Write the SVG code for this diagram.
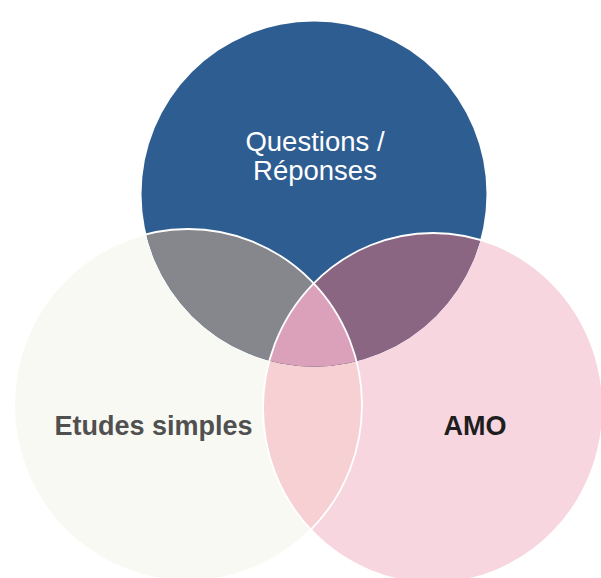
<svg xmlns="http://www.w3.org/2000/svg" width="601" height="578" viewBox="0 0 601 578">
<style>
.lbl{font-family:"Liberation Sans",Arial,sans-serif;text-anchor:middle}
.edge{fill:none;stroke:#ffffff;stroke-width:1.8}
</style>
<defs>
<circle id="cA" cx="314" cy="194" r="172.5"/>
<ellipse id="cB" cx="188" cy="405" rx="174" ry="176"/>
<ellipse id="cC" cx="433" cy="408" rx="170" ry="175"/>
<clipPath id="clipA"><use href="#cA"/></clipPath>
<clipPath id="clipB"><use href="#cB"/></clipPath>
<clipPath id="clipC"><use href="#cC"/></clipPath>
</defs>
<rect width="601" height="578" fill="#ffffff"/>
<g id="etudes-simples">
<use href="#cB" fill="#f9f9f4"/>
</g>
<g id="amo">
<use href="#cC" fill="#f8d6e0"/>
<use href="#cC" fill="#f6d0d2" clip-path="url(#clipB)"/>
</g>
<g id="questions-reponses">
<use href="#cA" fill="#2e5d92"/>
<g clip-path="url(#clipA)">
<use href="#cB" fill="#86878c"/>
<use href="#cC" fill="#8b6683"/>
<g clip-path="url(#clipB)"><use href="#cC" fill="#dba1bb"/></g>
</g>
</g>
<g id="connectors">
<use href="#cB" class="edge"/>
<use href="#cC" class="edge"/>
</g>
<g id="labels">
<text class="lbl" x="315" y="151" font-size="27.5" fill="#ffffff">Questions /</text>
<text class="lbl" x="315" y="180" font-size="27.5" fill="#ffffff">Réponses</text>
<text class="lbl" x="153.5" y="435" font-size="27" font-weight="bold" fill="#505050">Etudes simples</text>
<text class="lbl" x="475" y="435" font-size="27" font-weight="bold" fill="#1e1e1e">AMO</text>
</g>
</svg>
